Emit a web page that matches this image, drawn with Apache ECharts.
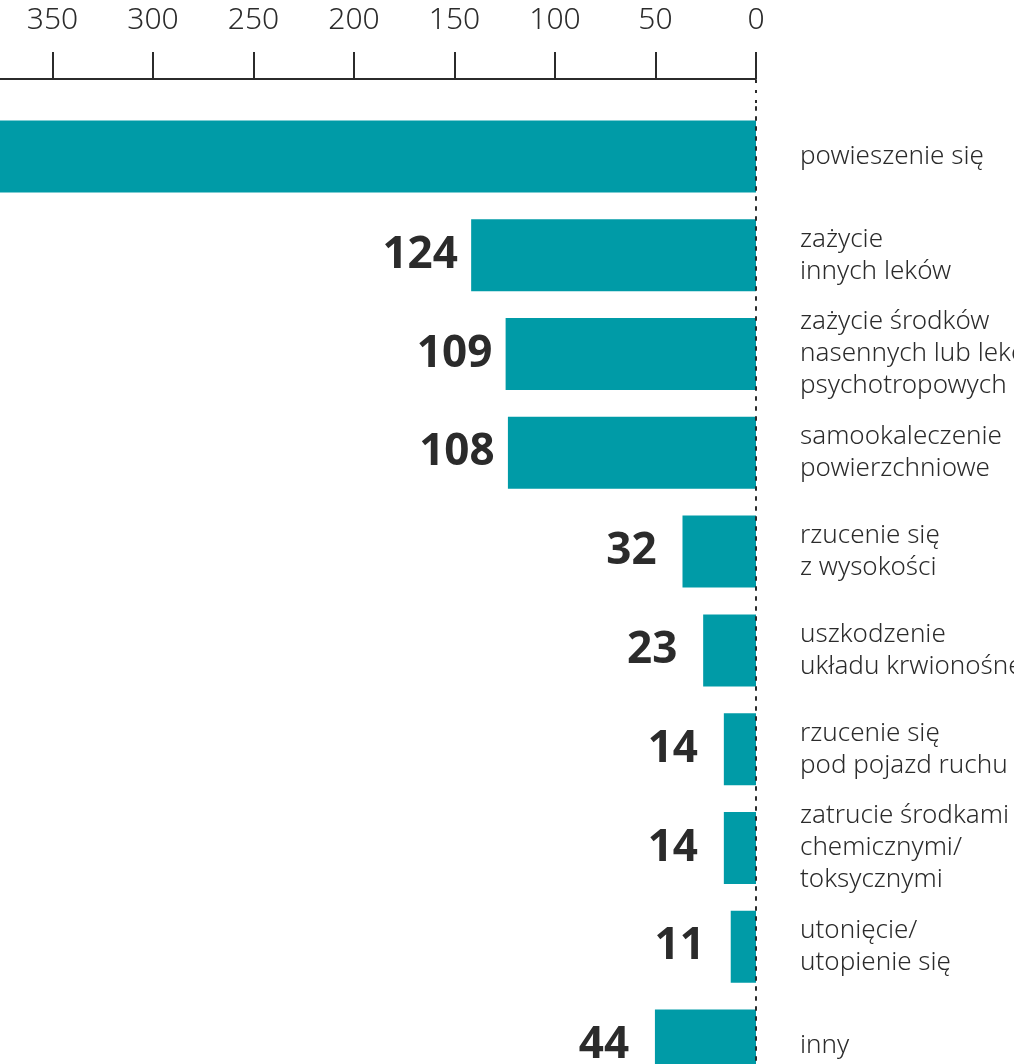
<!DOCTYPE html>
<html>
<head>
<meta charset="utf-8">
<script src="https://cdn.jsdelivr.net/npm/echarts@6/dist/echarts.min.js"></script>
<style>
  html, body { margin: 0; padding: 0; background: #fff; }
  #chart { width: 1014px; height: 1064px; }
</style>
</head>
<body>
<div id="chart"></div>
<script>
  // categories top to bottom
  const categories = [
    'powieszenie się',
    'zażycie\ninnych leków',
    'zażycie środków\nnasennych lub leków\npsychotropowych',
    'samookaleczenie\npowierzchniowe',
    'rzucenie się\nz wysokości',
    'uszkodzenie\nukładu krwionośnego',
    'rzucenie się\npod pojazd ruchu',
    'zatrucie środkami\nchemicznymi/\ntoksycznymi',
    'utonięcie/\nutopienie się',
    'inny'
  ]
  // first value is cut off in the picture, estimated
  const values = [396, 124, 109, 108, 32, 23, 14, 14, 11, 44]

  const tickMax = 400
  const tickStep = 50
  const barMax = 350

  const ink = '#2b2b2b'
  const teal = '#009ba7'
  const font = 'Noto Sans'

  let chart = echarts.init(document.getElementById('chart'))

  let option = {
    animation: false,
    grid: {
      left: -48,
      right: 258,
      top: 107,
      bottom: -31,
      containLabel: false,
      outerBoundsMode: 'none'
    },
    xAxis: [{
      // scale shown on top
      type: 'value',
      position: 'top',
      inverse: true,
      offset: 28,
      min: 0,
      max: tickMax,
      interval: tickStep,
      splitLine: { show: false },
      axisLine: { show: true, lineStyle: { color: ink, width: 2 } },
      axisTick: { show: true, length: 27, lineStyle: { color: ink, width: 2 } },
      axisLabel: {
        margin: 44,
        color: ink,
        fontFamily: font,
        fontWeight: 300,
        fontSize: 30,
        showMaxLabel: false
      }
    }, {
      // scale the bars are drawn on
      type: 'value',
      show: false,
      inverse: true,
      min: 0,
      max: barMax
    }],
    yAxis: {
      type: 'category',
      position: 'right',
      inverse: true,
      data: categories,
      z: 3,
      axisLine: { show: true, lineStyle: { color: ink, width: 2, type: [3, 7] } },
      axisTick: { show: false },
      splitLine: { show: false },
      axisLabel: {
        margin: 44,
        align: 'left',
        color: ink,
        fontFamily: font,
        fontWeight: 300,
        fontSize: 26,
        lineHeight: 32
      }
    },
    series: [{
      type: 'bar',
      xAxisIndex: 1,
      barWidth: 72,
      clip: true,
      itemStyle: { color: teal },
      label: {
        show: true,
        position: 'left',
        distance: 51,
        align: 'center',
        color: ink,
        fontFamily: font,
        fontWeight: 'bold',
        fontSize: 44
      },
      data: values
    }]
  }

  chart.setOption(option)

  // dotted line continues up to the top axis line
  let x0 = chart.convertToPixel({ xAxisIndex: 0 }, 0)
  chart.setOption({
    graphic: [{
      type: 'line',
      shape: { x1: x0, y1: 80, x2: x0, y2: 107 },
      style: { stroke: ink, lineWidth: 2, lineDash: [3, 7] },
      z: 3
    }]
  })
</script>
</body>
</html>
